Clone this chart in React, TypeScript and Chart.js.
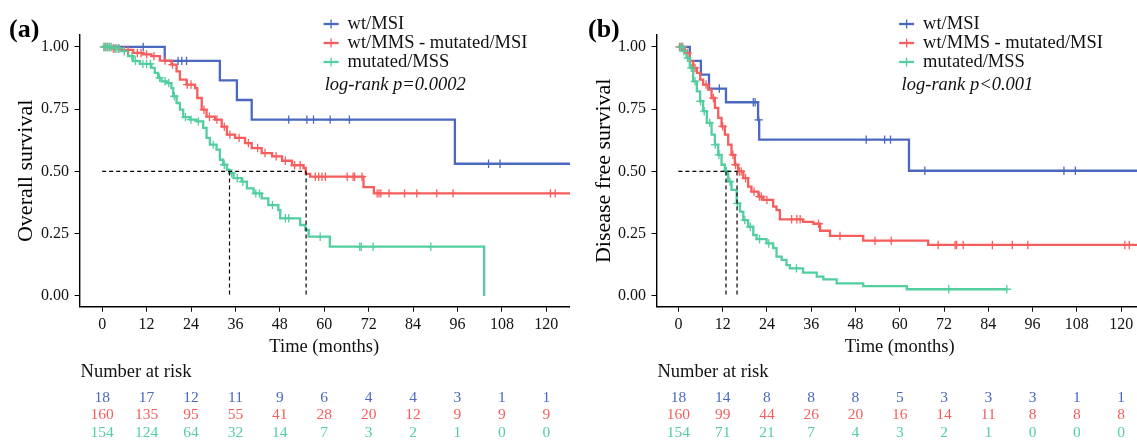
import React, { useEffect, useRef } from "react";
import { Chart, registerables } from "chart.js";

Chart.register(...registerables);

const FONT = '"Liberation Serif", "Times New Roman", Times, serif';
const INK = "#111111";

const groupNames = ["wt/MSI", "wt/MMS - mutated/MSI", "mutated/MSS"];
const groupColors = ["#4A68BF", "#F65E5E", "#52CE9F"];
const timeTicks = [0, 12, 24, 36, 48, 60, 72, 84, 96, 108, 120];
const survTicks = [0, 0.25, 0.5, 0.75, 1];

// ---------- Panel (a): overall survival ----------
const osBlueTimes = [0, 16.9, 31.8, 36.4, 40.4, 95.3];
const osBlueSurv = [1, 0.944, 0.866, 0.787, 0.708, 0.531];
const osBlueLast = 130;
const osBlueCensored = [11.1, 20.5, 21.5, 22.8, 50.4, 55.3, 57.1, 61.6, 66.8, 104.4, 107.5];

const osRedTimes = [0, 2.5, 5, 8.4, 11, 13.3, 15.6, 18.7, 20.1, 21, 22.8, 25.1, 25.7, 26.9, 28.2, 30.5, 32.3, 33.7, 35.9, 38.6, 40.4, 43.1, 45.9, 48.6, 51.3, 54.4, 55.0, 56.2, 70.6, 73.4];
const osRedSurv = [1, 0.994, 0.988, 0.976, 0.97, 0.963, 0.945, 0.929, 0.902, 0.869, 0.849, 0.835, 0.795, 0.748, 0.72, 0.708, 0.68, 0.648, 0.635, 0.614, 0.594, 0.574, 0.561, 0.543, 0.525, 0.514, 0.49, 0.479, 0.437, 0.412];
const osRedLast = 130;
const osRedCensored = [0.5, 1, 1.5, 2, 3, 3.5, 4.5, 6, 7, 9.5, 10.5, 12, 14, 17, 19, 23, 24, 27.5, 29, 31, 33, 34.5, 37, 39.5, 42, 44, 47, 49.5, 52, 53.5, 57.6, 58.5, 59.4, 60.3, 66.2, 67.8, 68.2, 70.2, 74.3, 74.8, 75.3, 77.5, 81.7, 85, 90.4, 94.8, 121.1, 122.4];

const osGreenTimes = [0, 3, 5.2, 7, 8.4, 10.2, 13.3, 14.2, 15.1, 16, 17.4, 18.7, 19.2, 20.1, 21, 21.9, 23.7, 25.5, 27.3, 28.2, 29.1, 30.9, 31.8, 32.7, 33.7, 34.4, 35.5, 37.7, 39.1, 40.9, 43.1, 44.9, 47.6, 48.1, 53.5, 54.9, 55.8, 61.5, 103.2];
const osGreenSurv = [1, 0.994, 0.983, 0.963, 0.943, 0.932, 0.916, 0.896, 0.876, 0.862, 0.855, 0.835, 0.802, 0.775, 0.748, 0.718, 0.708, 0.701, 0.675, 0.635, 0.608, 0.588, 0.547, 0.527, 0.507, 0.493, 0.473, 0.459, 0.432, 0.412, 0.392, 0.365, 0.345, 0.312, 0.285, 0.265, 0.238, 0.198, 0];
const osGreenLast = 103.2;
const osGreenCensored = [0.5, 1, 1.5, 2, 2.5, 3.5, 4, 4.5, 6, 8, 9, 11, 12, 13, 15.5, 17, 18, 19.5, 22.5, 24, 26, 30, 33, 35, 36.5, 38, 41.5, 42.5, 46, 49.5, 50.4, 58.9, 69.6, 70, 73.2, 88.8];

const osMedians = [34.4, 55.1];
const osRiskBlue = [18, 17, 12, 11, 9, 6, 4, 4, 3, 1, 1];
const osRiskRed = [160, 135, 95, 55, 41, 28, 20, 12, 9, 9, 9];
const osRiskGreen = [154, 124, 64, 32, 14, 7, 3, 2, 1, 0, 0];

// ---------- Panel (b): disease free survival ----------
const dfsBlueTimes = [0, 3.1, 6.1, 8.3, 12.9, 21.6, 21.9, 62.5];
const dfsBlueSurv = [1, 0.944, 0.889, 0.833, 0.778, 0.707, 0.628, 0.503];
const dfsBlueLast = 130;
const dfsBlueCensored = [11.1, 20.3, 20.8, 21.75, 50.9, 55.9, 57.5, 66.8, 104.5, 107.6];

const dfsRedTimes = [0, 1.8, 3.1, 4, 5, 5.9, 6.7, 8.1, 9, 9.9, 10.8, 11.7, 12.6, 13.5, 14.4, 15.3, 16.2, 17.6, 18.9, 19.8, 21.7, 23, 25.7, 26.6, 27.5, 33.8, 36.6, 38.4, 41.1, 50.1, 67.7];
const dfsRedSurv = [1, 0.976, 0.943, 0.916, 0.896, 0.869, 0.849, 0.829, 0.795, 0.755, 0.715, 0.681, 0.648, 0.608, 0.567, 0.527, 0.5, 0.473, 0.439, 0.419, 0.399, 0.386, 0.359, 0.345, 0.308, 0.298, 0.29, 0.262, 0.241, 0.222, 0.205];
const dfsRedLast = 130;
const dfsRedCensored = [0.3, 0.8, 1.2, 2.5, 4.5, 7.5, 9.5, 12, 14.8, 15.5, 16.5, 17, 18.2, 20.5, 22, 22.5, 24, 30.7, 32.1, 33, 38, 43.8, 53.3, 57.7, 70.4, 75, 75.4, 77.2, 85.1, 90.5, 94.7, 121, 122.2];

const dfsGreenTimes = [0, 1.3, 2.2, 3.1, 4, 5, 5.9, 6.7, 7.7, 9, 9.9, 10.8, 11.7, 12.6, 13.5, 14.4, 15.8, 16.7, 17.6, 18.9, 20.3, 21.2, 23.9, 25.7, 26.6, 28, 29.3, 30.2, 33.8, 37.5, 39.3, 42.9, 50.1, 61.9];
const dfsGreenSurv = [1, 0.983, 0.956, 0.916, 0.862, 0.822, 0.782, 0.742, 0.695, 0.648, 0.608, 0.567, 0.527, 0.501, 0.459, 0.426, 0.372, 0.339, 0.305, 0.278, 0.245, 0.228, 0.211, 0.192, 0.158, 0.145, 0.124, 0.111, 0.094, 0.078, 0.067, 0.051, 0.04, 0.027];
const dfsGreenLast = 89.2;
const dfsGreenCensored = [0.5, 1, 1.5, 2.5, 3.5, 4.5, 6, 7, 8.5, 10, 11, 13, 14, 16, 18, 19.5, 22, 24.5, 32, 73.3, 89];

const dfsMedians = [12.9, 15.9];
const dfsRiskBlue = [18, 14, 8, 8, 8, 5, 3, 3, 3, 1, 1];
const dfsRiskRed = [160, 99, 44, 26, 20, 16, 14, 11, 8, 8, 8];
const dfsRiskGreen = [154, 71, 21, 7, 4, 3, 2, 1, 0, 0, 0];

type Series = { times: number[]; surv: number[]; last: number; censored: number[] };

type Panel = {
  tag: string;
  yTitle: string;
  logRank: string;
  series: Series[];
  medians: number[];
  risk: number[][];
  width: number;
  axisLeft: number;
  xMin: number;
  xMax: number;
  yTitlePad: number;
  tagX: number;
  legendX: number;
  logRankX: number;
};

function levelAt(s: Series, t: number) {
  let v = s.surv[0];
  for (let i = 0; i < s.times.length; i++) if (s.times[i] <= t) v = s.surv[i];
  return v;
}

function stepPoints(s: Series) {
  const pts = s.times.map((t, i) => ({ x: t, y: s.surv[i] }));
  pts.push({ x: s.last, y: s.surv[s.surv.length - 1] });
  return pts;
}

function decorPlugin(p: Panel) {
  return {
    id: "decor",
    afterDraw(chart: any) {
      const ctx = chart.ctx as CanvasRenderingContext2D;
      const xs = chart.scales.x;
      ctx.save();
      ctx.textBaseline = "middle";
      // panel tag
      ctx.fillStyle = "#000";
      ctx.textAlign = "left";
      ctx.font = `bold 26px ${FONT}`;
      ctx.fillText(p.tag, p.tagX, 30);
      // legend
      const rowY = [24, 43, 62];
      groupNames.forEach((name, i) => {
        const y = rowY[i];
        ctx.strokeStyle = groupColors[i];
        ctx.lineWidth = 2.3;
        ctx.beginPath();
        ctx.moveTo(p.legendX, y);
        ctx.lineTo(p.legendX + 15, y);
        ctx.stroke();
        ctx.lineWidth = 1.3;
        ctx.beginPath();
        ctx.moveTo(p.legendX + 7.5, y - 4.5);
        ctx.lineTo(p.legendX + 7.5, y + 4.5);
        ctx.stroke();
        ctx.fillStyle = INK;
        ctx.font = `18.5px ${FONT}`;
        ctx.fillText(name, p.legendX + 24, y);
      });
      ctx.font = `italic 18.5px ${FONT}`;
      ctx.fillStyle = INK;
      ctx.fillText(p.logRank, p.logRankX, 85);
      // x title
      ctx.textAlign = "center";
      ctx.font = `18.5px ${FONT}`;
      ctx.fillText("Time (months)", xs.getPixelForValue(60), 346.7);
      // number at risk
      ctx.textAlign = "left";
      ctx.fillText("Number at risk", p.axisLeft + 1, 371.7);
      const riskY = [397.7, 415, 433.3];
      ctx.textAlign = "center";
      ctx.font = `15.5px ${FONT}`;
      p.risk.forEach((row, gi) => {
        ctx.fillStyle = groupColors[gi];
        row.forEach((n, ti) => {
          ctx.fillText(String(n), xs.getPixelForValue(timeTicks[ti]), riskY[gi]);
        });
      });
      ctx.restore();
    },
  };
}

function makeChart(canvas: HTMLCanvasElement, p: Panel) {
  const datasets: any[] = [];
  // median dashed lines
  const maxMed = Math.max(...p.medians);
  datasets.push({
    type: "line",
    data: [{ x: 0, y: 0.5 }, { x: maxMed, y: 0.5 }],
    borderColor: "#000",
    borderWidth: 1.2,
    borderDash: [4, 3],
    pointRadius: 0,
    order: 0,
  });
  p.medians.forEach((m) => {
    datasets.push({
      type: "line",
      data: [{ x: m, y: 0.5 }, { x: m, y: 0 }],
      borderColor: "#000",
      borderWidth: 1.2,
      borderDash: [4, 3],
      pointRadius: 0,
      order: 0,
    });
  });
  p.series.forEach((s, i) => {
    datasets.push({
      type: "line",
      label: groupNames[i],
      data: stepPoints(s),
      stepped: true,
      borderColor: groupColors[i],
      borderWidth: 2.3,
      pointRadius: 0,
      fill: false,
      order: 10 - i,
    });
    datasets.push({
      type: "line",
      label: groupNames[i] + " censored",
      data: s.censored.map((t) => ({ x: t, y: levelAt(s, t) })),
      showLine: false,
      pointStyle: "cross",
      pointRadius: 4.2,
      pointBorderWidth: 1.3,
      borderColor: groupColors[i],
      backgroundColor: groupColors[i],
      order: 5 - i,
    });
  });

  return new Chart(canvas, {
    type: "line",
    data: { datasets },
    options: {
      animation: false,
      responsive: false,
      devicePixelRatio: 1,
      layout: { autoPadding: false, padding: { left: 0, right: 0, top: 35, bottom: 0 } },
      plugins: { legend: { display: false }, tooltip: { enabled: false }, title: { display: false } },
      scales: {
        x: {
          type: "linear",
          min: p.xMin,
          max: p.xMax,
          afterBuildTicks: (s: any) => {
            s.ticks = timeTicks.map((v) => ({ value: v }));
          },
          afterFit: (s: any) => {
            s.height = 440 - 306.7;
          },
          ticks: {
            font: { family: FONT, size: 16 },
            color: INK,
            padding: 3,
            maxRotation: 0,
            autoSkip: false,
            callback: (v: any) => String(v),
          },
          grid: { drawOnChartArea: false, drawTicks: true, tickLength: 5, color: "#000", lineWidth: 1 },
          border: { display: true, color: "#000", width: 1.4 },
        },
        y: {
          type: "linear",
          min: -0.043,
          max: 1.048,
          afterBuildTicks: (s: any) => {
            s.ticks = survTicks.map((v) => ({ value: v }));
          },
          afterFit: (s: any) => {
            s.width = p.axisLeft;
          },
          ticks: {
            font: { family: FONT, size: 16 },
            color: INK,
            padding: 5.5,
            autoSkip: false,
            callback: (v: any) => Number(v).toFixed(2),
          },
          title: {
            display: true,
            text: p.yTitle,
            color: "#000",
            font: { family: FONT, size: 22 },
            padding: { top: p.yTitlePad, bottom: 0 },
          },
          grid: { drawOnChartArea: false, drawTicks: true, tickLength: 5, color: "#000", lineWidth: 1 },
          border: { display: true, color: "#000", width: 1.4 },
        },
      },
    },
    plugins: [decorPlugin(p)],
  } as any);
}

const panelA: Panel = {
  tag: "(a)",
  yTitle: "Overall survival",
  logRank: "log-rank p=0.0002",
  series: [
    { times: osBlueTimes, surv: osBlueSurv, last: osBlueLast, censored: osBlueCensored },
    { times: osRedTimes, surv: osRedSurv, last: osRedLast, censored: osRedCensored },
    { times: osGreenTimes, surv: osGreenSurv, last: osGreenLast, censored: osGreenCensored },
  ],
  medians: osMedians,
  risk: [osRiskBlue, osRiskRed, osRiskGreen],
  width: 570,
  axisLeft: 79.6,
  xMin: -6.1,
  xMax: 126.4,
  yTitlePad: 12.8,
  tagX: 9,
  legendX: 323.6,
  logRankX: 324.7,
};

const panelB: Panel = {
  tag: "(b)",
  yTitle: "Disease free survival",
  logRank: "log-rank p<0.001",
  series: [
    { times: dfsBlueTimes, surv: dfsBlueSurv, last: dfsBlueLast, censored: dfsBlueCensored },
    { times: dfsRedTimes, surv: dfsRedSurv, last: dfsRedLast, censored: dfsRedCensored },
    { times: dfsGreenTimes, surv: dfsGreenSurv, last: dfsGreenLast, censored: dfsGreenCensored },
  ],
  medians: dfsMedians,
  risk: [dfsRiskBlue, dfsRiskRed, dfsRiskGreen],
  width: 567,
  axisLeft: 86.5,
  xMin: -5.93,
  xMax: 124.3,
  yTitlePad: 20.8,
  tagX: 18,
  legendX: 329.1,
  logRankX: 331.6,
};

function PanelChart({ panel, left }: { panel: Panel; left: number }) {
  const ref = useRef<HTMLCanvasElement | null>(null);
  useEffect(() => {
    if (!ref.current) return;
    const chart = makeChart(ref.current, panel);
    return () => chart.destroy();
  }, [panel]);
  return (
    <canvas
      ref={ref}
      width={panel.width}
      height={440}
      style={{ position: "absolute", left, top: 0, width: panel.width, height: 440 }}
    />
  );
}

export default function App() {
  return (
    <div style={{ position: "fixed", left: 0, top: 0, width: 1137, height: 440, background: "#fff", overflow: "hidden" }}>
      <PanelChart panel={panelA} left={0} />
      <PanelChart panel={panelB} left={570} />
    </div>
  );
}
